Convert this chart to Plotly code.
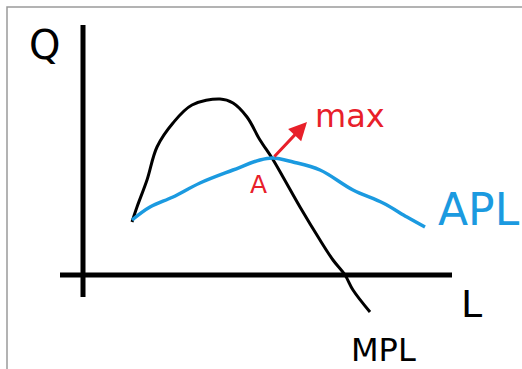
import plotly.graph_objects as go

# hand-drawn curves (L, Q)
mpl_L = [4.9, 5.4, 6.4, 7.4, 9.0, 10.9, 13.7, 15.0, 16.4, 17.7, 18.9, 20.0, 21.7, 23.7, 25.0, 26.2, 27.0, 28.7]
mpl_Q = [5.3, 6.8, 9.5, 12.8, 15.2, 17.0, 17.6, 17.2, 15.8, 13.5, 11.7, 9.8, 6.8, 3.5, 1.5, 0.0, -1.5, -3.7]

apl_L = [4.9, 6.7, 9.0, 11.7, 15.0, 17.7, 19.0, 21.0, 23.7, 27.0, 30.0, 32.4, 34.2]
apl_Q = [5.5, 6.8, 7.8, 9.2, 10.5, 11.5, 11.7, 11.3, 10.5, 8.5, 7.2, 5.8, 4.8]

# point A = max of APL, where MPL crosses it
point_A = (19.0, 11.7)
arrow_tip = (22.4, 15.3)

BLUE = "#1b9ae0"
RED = "#e8202a"

fig = go.Figure()
fig.add_trace(go.Scatter(x=mpl_L, y=mpl_Q, mode="lines", line=dict(color="black", width=3, shape="spline"),
                         hoverinfo="skip"))
fig.add_trace(go.Scatter(x=apl_L, y=apl_Q, mode="lines", line=dict(color=BLUE, width=3.5, shape="spline"),
                         hoverinfo="skip"))

# axes drawn by hand
fig.add_shape(type="line", x0=0, x1=0, y0=-2.2, y1=25.0, line=dict(color="black", width=5))
fig.add_shape(type="line", x0=-2.3, x1=36.9, y0=0, y1=0, line=dict(color="black", width=5))

# page frame
fig.add_shape(type="rect", xref="paper", yref="paper", x0=7 / 522, x1=1.05, y0=-0.05, y1=1 - 7 / 369,
              line=dict(color="#9a9a9a", width=1.5))

font = "DejaVu Sans"
fig.add_annotation(x=-3.9, y=23.0, text="Q", showarrow=False, font=dict(family=font, size=40, color="black"))
fig.add_annotation(x=38.8, y=-2.9, text="L", showarrow=False, font=dict(family=font, size=38, color="black"))
fig.add_annotation(x=30.0, y=-7.5, text="MPL", showarrow=False, font=dict(family=font, size=32, color="black"))
fig.add_annotation(x=1.0, xref="paper", y=6.6, text="APL", showarrow=False, xanchor="right",
                   font=dict(family=font, size=44, color=BLUE))
fig.add_annotation(x=26.7, y=15.9, text="max", showarrow=False, font=dict(family=font, size=32, color=RED))
fig.add_annotation(x=17.5, y=9.1, text="A", showarrow=False, font=dict(family=font, size=25, color=RED))
fig.add_annotation(x=arrow_tip[0], y=arrow_tip[1], ax=point_A[0], ay=point_A[1], axref="x", ayref="y",
                   text="", showarrow=True, arrowhead=2, arrowsize=1.2, arrowwidth=3, arrowcolor=RED)

fig.update_layout(
    width=522, height=369,
    margin=dict(l=0, r=0, t=0, b=0),
    paper_bgcolor="white", plot_bgcolor="white",
    showlegend=False,
    xaxis=dict(range=[-8.3, 43.9], visible=False),
    yaxis=dict(range=[-9.4, 27.5], visible=False),
)

fig.write_html("out.html", config={"displayModeBar": False},
               post_script="document.body.style.margin='0';document.body.style.overflow='hidden';")
